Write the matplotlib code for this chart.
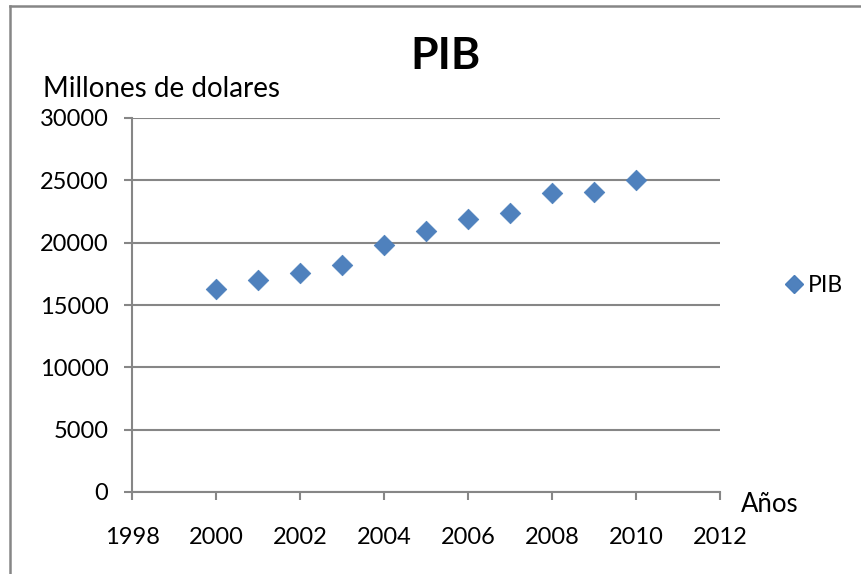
import matplotlib
matplotlib.use("Agg")
import matplotlib.pyplot as plt
from matplotlib.lines import Line2D

years = [2000, 2001, 2002, 2003, 2004, 2005, 2006, 2007, 2008, 2009, 2010]
pib = [16250, 17000, 17600, 18200, 19800, 20900, 21900, 22400, 24000, 24100, 25000]
x_ticks = [1998, 2000, 2002, 2004, 2006, 2008, 2010, 2012]
y_ticks = [0, 5000, 10000, 15000, 20000, 25000, 30000]

plt.rcParams['font.family'] = ['Lato', 'DejaVu Sans']
W, H = 861, 574
fig = plt.figure(figsize=(W / 100, H / 100), dpi=100)
fig.patch.set_facecolor('white')

gray = '#868686'
ax = fig.add_axes([132 / W, 1 - 492 / H, (720 - 132) / W, (492 - 118) / H])
ax.scatter(years, pib, marker='D', s=10.5 ** 2, color='#4F81BD',
           edgecolors='#4A7EBB', linewidths=0.5, zorder=3, clip_on=False)
ax.set_xlim(1998, 2012)
ax.set_ylim(0, 30000)
ax.set_xticks(x_ticks)
ax.set_yticks(y_ticks)
ax.set_xticklabels([str(v) for v in x_ticks])
ax.set_yticklabels([str(v) for v in y_ticks])
ax.grid(axis='y', color=gray, linewidth=1.5)
ax.set_axisbelow(True)
for s in ['top', 'right']:
    ax.spines[s].set_visible(False)
for s in ['left', 'bottom']:
    ax.spines[s].set_color(gray)
    ax.spines[s].set_linewidth(1.5)
ax.tick_params(axis='y', direction='out', length=6, width=1.5, color=gray,
               labelsize=17, pad=11, labelcolor='black')
ax.tick_params(axis='x', direction='out', length=6, width=1.5, color=gray,
               labelsize=17, pad=19, labelcolor='black')

fig.text(445 / W, 1 - 56 / H, 'PIB', ha='center', va='center',
         fontsize=32, fontweight='bold')
fig.text(43 / W, 1 - 89 / H, 'Millones de dolares', ha='left', va='center',
         fontsize=20)
fig.text(741 / W, 1 - 505 / H, 'Años', ha='left', va='center', fontsize=18.5)

handle = Line2D([], [], marker='D', linestyle='none', markersize=9,
                color='#4F81BD', markeredgecolor='#4A7EBB')
fig.legend([handle], ['PIB'], loc='center left',
           bbox_to_anchor=(769 / W, 1 - 286 / H), frameon=False,
           fontsize=16.5, handletextpad=0.0, handlelength=1.2, borderpad=0)

# chart border (left and top visible)
fig.add_artist(Line2D([10 / W, 10 / W], [0, 1 - 6 / H], color=gray,
                      linewidth=1.8, transform=fig.transFigure))
fig.add_artist(Line2D([10 / W, 1], [1 - 6 / H, 1 - 6 / H], color=gray,
                      linewidth=1.8, transform=fig.transFigure))

fig.savefig('out.png', dpi=100)
